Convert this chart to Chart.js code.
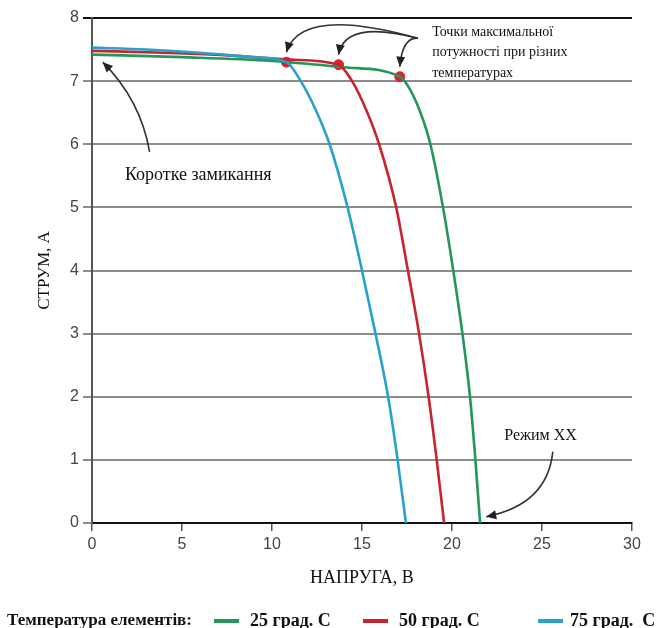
<!DOCTYPE html>
<html>
<head>
<meta charset="utf-8">
<script src="https://cdn.jsdelivr.net/npm/chart.js@4.4.1/dist/chart.umd.min.js"></script>
<style>
  html, body { margin: 0; padding: 0; background: #fff; }
  #wrap { position: relative; width: 664px; height: 628px; overflow: hidden; }
  #legend { position: absolute; left: 0; top: 609px; width: 664px; height: 22px;
            font-family: "Liberation Serif", serif; font-weight: bold; color: #111; }
  #legend span { position: absolute; top: 0; white-space: pre; line-height: 22px; }
  #legend i { position: absolute; top: 10px; height: 4px; width: 25px; }
</style>
</head>
<body>
<div id="wrap">
  <canvas id="ivChart" width="664" height="628"></canvas>
  <div id="legend"></div>
</div>
<script>
// I-V curves of a PV module at three cell temperatures
var seriesNames = ["25 град. С", "50 град. С", "75 град.  С"];
var seriesColors = ["#23975a", "#c62430", "#27a2cc"];

// voltage (V) / current (A)
var v25 = [0, 5, 10, 14, 17.1, 17.6, 18.25, 18.8, 19.5, 20.07, 20.58, 21.0, 21.3, 21.56];
var i25 = [7.42, 7.38, 7.32, 7.22, 7.07, 6.9, 6.5, 6.0, 5.0, 4.0, 3.0, 2.0, 1.0, 0];

var v50 = [0, 4, 8, 11, 13.7, 14.45, 15.3, 15.95, 16.9, 17.55, 18.17, 18.7, 19.15, 19.56];
var i50 = [7.48, 7.45, 7.40, 7.34, 7.26, 7.0, 6.5, 6.0, 5.0, 4.0, 3.0, 2.0, 1.0, 0];

var v75 = [0, 3, 6, 9, 10.8, 11.6, 12.5, 13.2, 14.2, 15.0, 15.75, 16.45, 16.98, 17.44];
var i75 = [7.53, 7.50, 7.45, 7.38, 7.30, 7.0, 6.5, 6.0, 5.0, 4.0, 3.0, 2.0, 1.0, 0];

// maximum power points
var mppV = [17.1, 13.7, 10.8];
var mppI = [7.07, 7.26, 7.30];

var xTicks = [0, 5, 10, 15, 20, 25, 30];
var yTicks = [0, 1, 2, 3, 4, 5, 6, 7, 8];

function toPoints(xs, ys) {
  var pts = [];
  for (var k = 0; k < xs.length; k++) pts.push({x: xs[k], y: ys[k]});
  return pts;
}

var curves = [toPoints(v25, i25), toPoints(v50, i50), toPoints(v75, i75)];

var datasets = [];
for (var s = 2; s >= 0; s--) {
  datasets.push({
    label: seriesNames[s],
    data: curves[s],
    borderColor: seriesColors[s],
    borderWidth: 2.6,
    pointRadius: 0,
    showLine: true,
    cubicInterpolationMode: "monotone",
    fill: false
  });
}
datasets.push({
  label: "mpp",
  data: toPoints(mppV, mppI),
  showLine: false,
  pointRadius: 5,
  pointBackgroundColor: "#e3202a",
  pointBorderColor: "#e3202a"
});

function arrow(ctx, x0, y0, cx, cy, x1, y1) {
  ctx.beginPath();
  ctx.moveTo(x0, y0);
  ctx.quadraticCurveTo(cx, cy, x1, y1);
  ctx.stroke();
  var a = Math.atan2(y1 - cy, x1 - cx);
  var len = 10, w = 4.5;
  ctx.beginPath();
  ctx.moveTo(x1, y1);
  ctx.lineTo(x1 - len * Math.cos(a) + w * Math.sin(a), y1 - len * Math.sin(a) - w * Math.cos(a));
  ctx.lineTo(x1 - len * Math.cos(a) - w * Math.sin(a), y1 - len * Math.sin(a) + w * Math.cos(a));
  ctx.closePath();
  ctx.fill();
}

var notes = {
  id: "notes",
  afterDatasetsDraw: function(chart) {
    var ctx = chart.ctx;
    var sx = chart.scales.x, sy = chart.scales.y;
    function px(v) { return sx.getPixelForValue(v); }
    function py(v) { return sy.getPixelForValue(v); }
    ctx.save();
    ctx.fillStyle = "#111";
    ctx.textBaseline = "middle";
    ctx.textAlign = "left";

    ctx.font = "14px 'Liberation Serif'";
    ctx.fillText("Точки максимальної", px(18.9), py(7.77));
    ctx.fillText("потужності при різних", px(18.9), py(7.45));
    ctx.fillText("температурах", px(18.9), py(7.13));

    ctx.font = "18px 'Liberation Serif'";
    ctx.fillText("Коротке замикання", px(1.83), py(5.51));

    ctx.font = "16px 'Liberation Serif'";
    ctx.fillText("Режим XX", px(22.9), py(1.38));

    ctx.strokeStyle = "#333";
    ctx.fillStyle = "#222";
    ctx.lineWidth = 1.6;
    // arrows to the maximum power points
    var ctrl = [[17.25, 7.70], [14.05, 7.98], [11.6, 8.2]];
    for (var k = 0; k < mppV.length; k++) {
      arrow(ctx, px(18.1), py(7.68), px(ctrl[k][0]), py(ctrl[k][1]),
            px(mppV[k]), py(mppI[k]) - 10);
    }
    arrow(ctx, px(3.2), py(5.88), px(2.7), py(6.7), px(0.6), py(7.30));
    arrow(ctx, px(25.6), py(1.13), px(25.3), py(0.29), px(21.9), py(0.1));
    ctx.restore();
  }
};

new Chart(document.getElementById("ivChart"), {
  type: "scatter",
  data: { datasets: datasets },
  plugins: [notes],
  options: {
    responsive: false,
    animation: false,
    layout: { padding: { left: 34, right: 32, top: 18, bottom: 39 } },
    plugins: { legend: { display: false }, tooltip: { enabled: false } },
    scales: {
      x: {
        type: "linear", min: 0, max: 30,
        afterBuildTicks: function(scale) { scale.ticks = xTicks.map(function(v) { return {value: v}; }); },
        afterFit: function(scale) { scale.height = 66; },
        border: { color: "#111", width: 2 },
        grid: { drawOnChartArea: false, tickLength: 8, tickColor: "#555", lineWidth: 1.5 },
        ticks: { font: { family: "'Liberation Sans'", size: 16 }, color: "#444", padding: 4 },
        title: { display: true, text: "НАПРУГА, В", color: "#111",
                 font: { family: "'Liberation Serif'", size: 18 }, padding: { top: 0, bottom: 0 } }
      },
      y: {
        type: "linear", min: 0, max: 8,
        afterBuildTicks: function(scale) { scale.ticks = yTicks.map(function(v) { return {value: v}; }); },
        afterFit: function(scale) { scale.width = 58; },
        border: { color: "#555", width: 2 },
        grid: {
          tickLength: 9, lineWidth: 2,
          color: function(c) { return c.tick && c.tick.value === 8 ? "#111" : "#8c8c8c"; }
        },
        ticks: { font: { family: "'Liberation Sans'", size: 16 }, color: "#444", padding: 4 },
        title: { display: true, text: "СТРУМ, А", color: "#111",
                 font: { family: "'Liberation Serif'", size: 17 }, padding: { top: 0, bottom: 0 } }
      }
    }
  }
});

// legend row under the chart
var legend = document.getElementById("legend");
var head = document.createElement("span");
head.textContent = "Температура елементів:";
head.style.left = "7px";
head.style.fontSize = "17px";
legend.appendChild(head);
var lineLeft = [214, 363, 538];
var textLeft = [250, 399, 570];
for (var s2 = 0; s2 < seriesNames.length; s2++) {
  var sw = document.createElement("i");
  sw.style.left = lineLeft[s2] + "px";
  sw.style.background = seriesColors[s2];
  legend.appendChild(sw);
  var t = document.createElement("span");
  t.textContent = seriesNames[s2];
  t.style.left = textLeft[s2] + "px";
  t.style.fontSize = "18px";
  legend.appendChild(t);
}
</script>
</body>
</html>
